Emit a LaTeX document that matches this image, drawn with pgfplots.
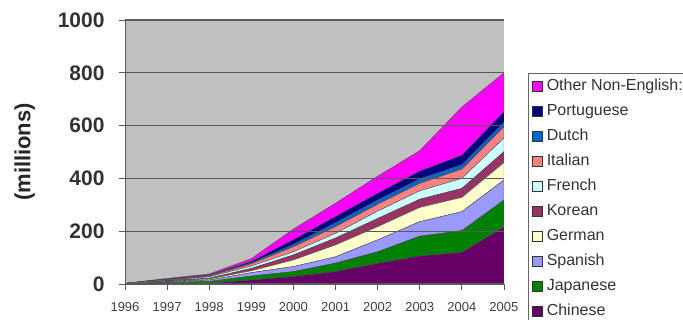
\documentclass[border=0pt]{standalone}
\usepackage{pgfplots}
\pgfplotsset{compat=1.18}
\usepackage{pgfplotstable}
\usepackage{fontspec}
\setmainfont{Liberation Sans}

% Classic spreadsheet palette for the language bands
\definecolor{cChinese}{HTML}{660066}
\definecolor{cJapanese}{HTML}{008000}
\definecolor{cSpanish}{HTML}{9999FF}
\definecolor{cGerman}{HTML}{FFFFCC}
\definecolor{cKorean}{HTML}{993366}
\definecolor{cFrench}{HTML}{CCFFFF}
\definecolor{cItalian}{HTML}{FF8080}
\definecolor{cDutch}{HTML}{0066CC}
\definecolor{cPortuguese}{HTML}{000080}
\definecolor{cOther}{HTML}{FF00FF}
\definecolor{plotbg}{HTML}{C0C0C0}

% Online population by language, millions (each column is one band of the stack)
\pgfplotstableread{
year ch  ja  sp  ge  ko  fr  it  du  po  ot
1996 0.3 0.5 0.3 0.3 0.2 0.3 0.2 0.1 0.3 0.5
1997 2   3   3   2   2   2   2   1   1   3
1998 3   7   5   4   3   5   3   2   2   4
1999 15  15  13  7   9   9   8   4   5   11
2000 28  19  19  25  19  12  19  9   17  41
2001 47  32  24  45  26  18  25  15  23  51
2002 78  44  45  50  31  28  26  16  25  65
2003 106 75  55  54  31  32  28  17  29  78
2004 120 82  72  54  34  38  35  17  35  183
2005 216 102 76  66  41  52  42  17  40  148
}\langdata

\begin{document}
\begin{tikzpicture}[x=1pt,y=1pt]
\useasboundingbox (0,0) rectangle (683,320);
\clip (0,0) rectangle (683,320);
\begin{axis}[
  at={(125pt,36pt)}, anchor=south west,
  scale only axis, width=379pt, height=264pt,
  xmin=1996, xmax=2005, ymin=0, ymax=1000,
  xtick={1996,...,2005}, ytick={0,200,...,1000},
  /pgf/number format/assume math mode=true,
  /pgf/number format/1000 sep={},
  axis background/.style={fill=plotbg},
  axis line style={draw=black!65, line width=1pt},
  axis x line*=bottom, axis y line*=left,
  ymajorgrids, grid style={draw=black!65, line width=1.2pt},
  tick align=outside, major tick length=6pt,
  tick style={draw=black!65, line width=0.8pt},
  yticklabel style={font=\fontsize{21}{21}\selectfont\bfseries, text=black!80, xshift=-11pt},
  xticklabel style={font=\fontsize{13}{13}\selectfont, text=black!75, yshift=-9pt},
  ylabel={(millions)},
  ylabel style={font=\fontsize{22}{22}\selectfont\bfseries, text=black!85,
    at={(axis description cs:-0.265,0.5)}, anchor=center},
  stack plots=y, area style,
  every axis plot/.append style={draw=black!70, line width=0.4pt},
  legend cell align=left,
  reverse legend,
  legend image code/.code={\draw[#1,draw=black!80,line width=0.5pt] (0pt,-5pt) rectangle (10pt,5pt);},
  legend style={at={(1.063,0.80)}, anchor=north west,
    draw=black!60, line width=0.8pt, fill=white,
    font=\fontsize{16}{16}\selectfont, text=black!80,
    inner xsep=4pt, inner ysep=4pt,
    nodes={text height=12pt, text depth=4pt, inner sep=1pt},
    row sep=7pt,
    /tikz/every odd column/.append style={column sep=3pt}},
]
\addplot[fill=cChinese]    table[x=year,y=ch] {\langdata} \closedcycle;
\addplot[fill=cJapanese]   table[x=year,y=ja] {\langdata} \closedcycle;
\addplot[fill=cSpanish]    table[x=year,y=sp] {\langdata} \closedcycle;
\addplot[fill=cGerman]     table[x=year,y=ge] {\langdata} \closedcycle;
\addplot[fill=cKorean]     table[x=year,y=ko] {\langdata} \closedcycle;
\addplot[fill=cFrench]     table[x=year,y=fr] {\langdata} \closedcycle;
\addplot[fill=cItalian]    table[x=year,y=it] {\langdata} \closedcycle;
\addplot[fill=cDutch]      table[x=year,y=du] {\langdata} \closedcycle;
\addplot[fill=cPortuguese] table[x=year,y=po] {\langdata} \closedcycle;
\addplot[fill=cOther]      table[x=year,y=ot] {\langdata} \closedcycle;
\legend{Chinese,Japanese,Spanish,German,Korean,French,Italian,Dutch,Portuguese,Other Non-English:}
\end{axis}
\end{tikzpicture}
\end{document}
